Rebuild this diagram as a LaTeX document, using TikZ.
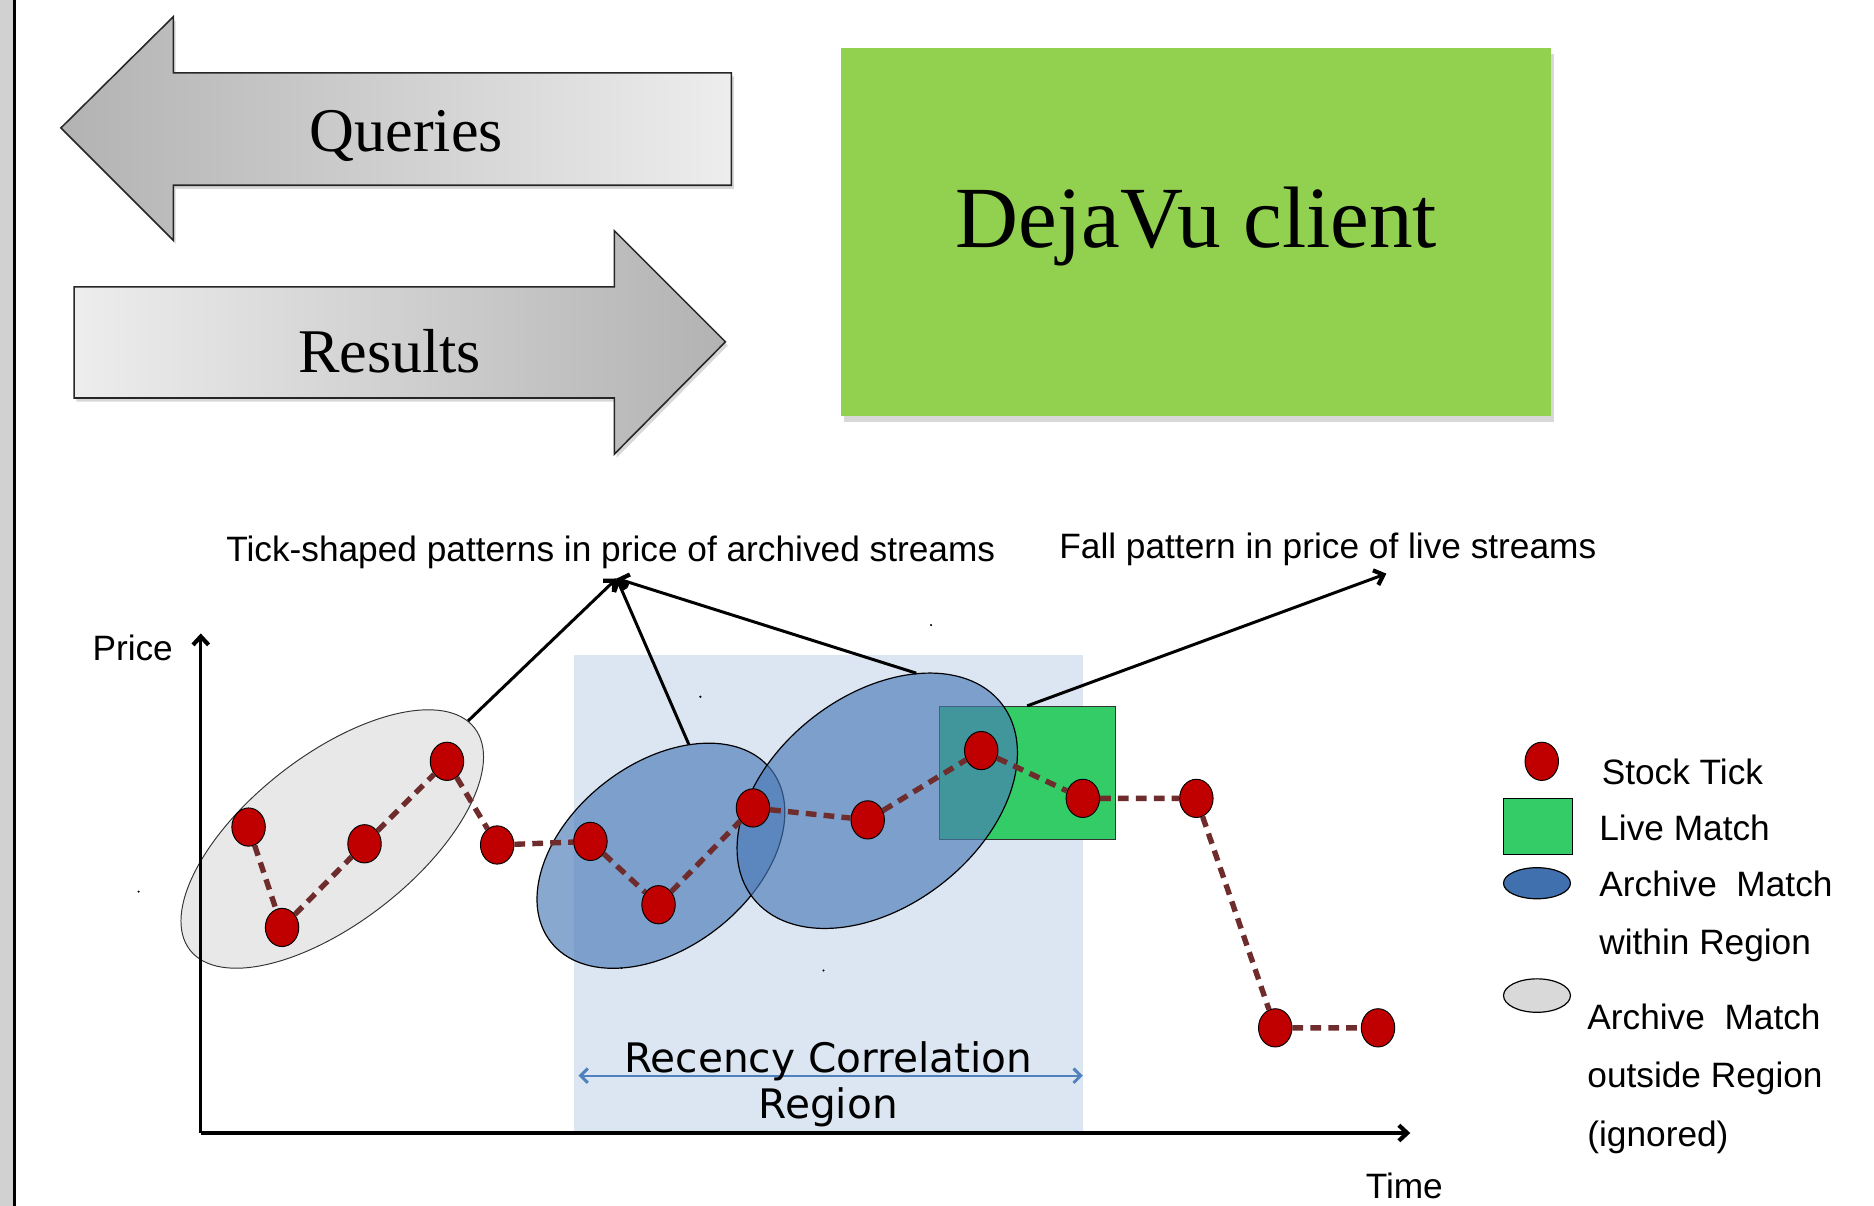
\documentclass[tikz,border=0pt]{standalone}
\usepackage{fontspec}
\setmainfont{Liberation Serif}
\newfontfamily\arialf{Liberation Sans}
\newfontfamily\dvsf{DejaVu Sans}
\usetikzlibrary{shapes.geometric,arrows.meta,shadows}
\definecolor{clientgreen}{HTML}{92D050}
\definecolor{regionblue}{HTML}{DCE6F2}
\definecolor{archblue}{HTML}{4A7AB8}
\definecolor{legblue}{HTML}{4170AE}
\definecolor{livegreen}{HTML}{33CC66}
\definecolor{tickred}{HTML}{C00000}
\definecolor{dashbrown}{HTML}{6E2C2C}
\definecolor{arrowblue}{HTML}{4F81BD}
\definecolor{archgray}{HTML}{E8E8E8}
\tikzset{
  bigarrow/.style={draw=black!85,line width=1.3pt,drop shadow={shadow xshift=2pt,shadow yshift=-3pt,opacity=0.3}},
  serifbig/.style={font=\fontsize{52}{60}\selectfont,anchor=base,inner sep=0pt},
  lbl/.style={font=\arialf\fontsize{29.5}{34}\selectfont,anchor=base,inner sep=0pt},
  leglbl/.style={lbl,anchor=base west},
  tick/.style={ellipse,fill=tickred,draw=black,line width=0.8pt,minimum width=28pt,minimum height=32pt,inner sep=0pt},
  archin/.style={ellipse,fill=archblue,fill opacity=0.65,draw=black,line width=1pt,inner sep=0pt,rotate=38},
  archout/.style={ellipse,fill=archgray,draw=black!80,line width=0.8pt,inner sep=0pt,rotate=38},
  tickline/.style={dashbrown,line width=4.5pt,dash pattern=on 9pt off 6pt},
  headtip/.tip={Straight Barb[length=7pt,width=13pt,line width=3.5pt]},
  conn/.style={line width=2.5pt,-headtip},
  axis/.style={line width=3pt,-headtip}
}
\begin{document}
\begin{tikzpicture}[x=1pt,y=-1pt]
\useasboundingbox (0,0) rectangle (1568,1009);
\fill[white] (0,0) rectangle (1568,1009);
% left strip
\fill[black!18] (0,0) rectangle (11,1009);
\draw[line width=2pt] (12,0) -- (12,1009);

% Queries arrow
\path[bigarrow,left color=black!30,right color=black!7]
  (51,107) -- (145,14) -- (145,61) -- (612,61) -- (612,155) -- (145,155) -- (145,201) -- cycle;
\node[serifbig] (queries) at (340,127) {Queries};
% Results arrow
\path[bigarrow,left color=black!7,right color=black!30]
  (62,240) -- (514,240) -- (514,193) -- (607,286) -- (514,380) -- (514,333) -- (62,333) -- cycle;
\node[serifbig] (results) at (326,312) {Results};

% DejaVu client box
\node[fill=clientgreen,minimum width=594pt,minimum height=308pt,inner sep=0pt,
      drop shadow={shadow xshift=2pt,shadow yshift=-5pt,opacity=0.3}] (client) at (1001,194) {};
\node[anchor=base,inner sep=0pt,font=\fontsize{73}{80}\selectfont] (clienttext) at (1001,207) {DejaVu client};

% chart
\fill[regionblue] (480,548) rectangle (906,948);
\node[archout,minimum width=302pt,minimum height=140pt] (e0) at (278,702) {};
\node[draw=black!80,line width=0.8pt,fill=livegreen,minimum width=147pt,minimum height=111pt,inner sep=0pt] (live) at (859.5,646.5) {};
\node[archin,minimum width=234pt,minimum height=154pt] (e1) at (553,716) {};
\node[archin,minimum width=264pt,minimum height=176pt] (e2) at (734,670) {};

% tiny specks
\fill (116,746) circle (1); \fill (779,523) circle (1); \fill (586,583) circle (1); \fill (689,812) circle (1); \fill (520,810) circle (0.8);

% axes
\coordinate (O) at (168,948);
\coordinate (ytop) at (168,530);
\coordinate (xend) at (1180,948);
\draw[axis,line width=2.5pt] (O) -- (ytop);
\draw[axis] (O) -- (xend);
\node[lbl] (price) at (111,553) {Price};
\node[lbl] (time) at (1175,1003) {Time};

% ticks
\node[tick] (d1) at (208,692) {};
\node[tick] (d2) at (236,776) {};
\node[tick] (d3) at (305,706) {};
\node[tick] (d4) at (374,637) {};
\node[tick] (d5) at (416,707) {};
\node[tick] (d6) at (494,704) {};
\node[tick] (d7) at (551,757) {};
\node[tick] (d8) at (630,676) {};
\node[tick] (d9) at (726,686) {};
\node[tick] (d10) at (821,628) {};
\node[tick] (d11) at (906,668) {};
\node[tick] (d12) at (1001,668) {};
\node[tick] (d13) at (1067,860) {};
\node[tick] (d14) at (1153,860) {};
\draw[tickline] (d1) -- (d2) -- (d3) -- (d4) -- (d5) -- (d6) -- (d7) -- (d8) -- (d9) -- (d10) -- (d11) -- (d12) -- (d13) -- (d14);

% labels and connectors
\node[lbl] (ticklbl) at (511,470) {Tick-shaped patterns in price of archived streams};
\node[lbl] (falllbl) at (1111,467) {Fall pattern in price of live streams};
\coordinate (tp) at (516,484);
\coordinate (fp) at (1160,480);
\draw[conn] (e0.3) -- (tp);
\draw[conn] (e1.38) -- (tp);
\draw[conn] (e2.35) -- (tp);
\draw[conn] (live.north) -- (fp);

% recency region
\coordinate (rl) at (484,900);
\coordinate (rr) at (906,900);
\draw[arrowblue,line width=1.5pt,{Straight Barb[length=6pt,width=12pt,line width=2.5pt]}-{Straight Barb[length=6pt,width=12pt,line width=2.5pt]}] (rl) -- (rr);
\node[anchor=base,inner sep=0pt,font=\dvsf\fontsize{34}{40}\selectfont] (rec1) at (693,897) {Recency Correlation};
\node[anchor=base,inner sep=0pt,font=\dvsf\fontsize{34}{40}\selectfont] (rec2) at (693,936) {Region};

% legend
\node[tick] (legdot) at (1290,637) {};
\node[leglbl] (legt1) at (1340,656) {Stock Tick};
\node[draw=black,line width=1pt,fill=livegreen,minimum width=58pt,minimum height=47pt,inner sep=0pt] (leglive) at (1287,691.5) {};
\node[leglbl] (legt2) at (1338,703) {Live Match};
\node[ellipse,draw=black,line width=1pt,fill=legblue,minimum width=56pt,minimum height=26pt,inner sep=0pt] (legarch) at (1286,739) {};
\node[leglbl] (legt3) at (1338,750) {Archive\ \ Match};
\node[leglbl] (legt4) at (1338,799) {within Region};
\node[ellipse,draw=black,line width=1pt,fill=black!15,minimum width=56pt,minimum height=28pt,inner sep=0pt] (leggray) at (1286,833) {};
\node[leglbl] (legt5) at (1328,861) {Archive\ \ Match};
\node[leglbl] (legt6) at (1328,910) {outside Region};
\node[leglbl] (legt7) at (1328,959) {(ignored)};
\end{tikzpicture}
\end{document}
